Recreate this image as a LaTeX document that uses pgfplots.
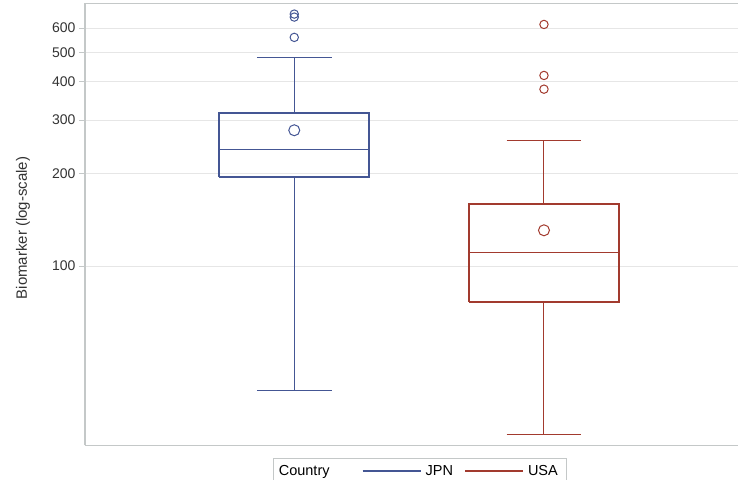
\documentclass[border=0pt]{standalone}
\usepackage{pgfplots}
\pgfplotsset{compat=1.18}
\usepackage{fontspec}
\setmainfont{Liberation Sans}
\definecolor{jpn}{HTML}{445694}
\definecolor{usa}{HTML}{A23A2E}
\definecolor{gridc}{HTML}{E6E6E6}
\definecolor{framec}{HTML}{C4C8C8}
\definecolor{txt}{HTML}{333333}
\begin{document}
\begin{tikzpicture}
\begin{axis}[
  at={(0,0)}, anchor=south west,
  scale only axis, width=653pt, height=442pt,
  ymode=log, ymin=25.9, ymax=722, xmin=0.162, xmax=2.777,
  xtick=\empty,
  ytick={100,200,300,400,500,600},
  yticklabels={100,200,300,400,500,600},
  yminorticks=false,
  ymajorgrids, major grid style={gridc, line width=1pt},
  axis x line*=box, axis y line*=left,
  axis line style={framec, line width=1.5pt},
  tick align=outside, major tick length=6pt,
  tick style={framec, line width=1pt},
  yticklabel style={font=\fontsize{14}{16}\selectfont, color=txt},
  ylabel={Biomarker (log-scale)},
  ylabel style={font=\fontsize{15}{17}\selectfont, color=txt, at={(axis description cs:-0.095,0.492)}, anchor=center},
  unbounded coords=jump,
  legend columns=3,
  legend image code/.code={\draw[#1, line width=2pt] (0pt,0pt) -- (58pt,0pt);},
  legend style={at={(axis description cs:0.512,0)}, yshift=-12.5pt, anchor=north,
    draw=framec, font=\fontsize{14.5}{17}\selectfont, text=black,
    inner xsep=2pt, inner ysep=5pt,
    /tikz/every odd column/.append style={column sep=2pt},
    /tikz/every even column/.append style={column sep=9pt}},
]
\coordinate (sw) at (rel axis cs:0,0);
% JPN: box
\addplot[jpn, line width=2pt, line join=miter, forget plot] coordinates
  {(0.7,195.6)(1.3,195.6)(1.3,315.5)(0.7,315.5)(0.7,195.6)};
% JPN: median, whiskers, caps
\addplot[jpn, line width=1pt, forget plot] coordinates
  {(0.7,240.4)(1.3,240.4) (1,nan)
   (1,315.5)(1,479.6) (1,nan)
   (0.85,479.6)(1.15,479.6) (1,nan)
   (1,195.6)(1,39.2) (1,nan)
   (0.85,39.2)(1.15,39.2)};
% JPN outliers
\addplot[jpn, only marks, mark=o, mark size=4.2pt, line width=1pt, forget plot]
  coordinates {(1,666.7)(1,651.8)(1,559.4)};
% JPN mean
\addplot[jpn, only marks, mark=o, mark size=5.5pt, line width=1pt, forget plot]
  coordinates {(1,278)};
% USA: box
\addplot[usa, line width=2pt, line join=miter, forget plot] coordinates
  {(1.7,76.2)(2.3,76.2)(2.3,160.1)(1.7,160.1)(1.7,76.2)};
\addplot[usa, line width=1pt, forget plot] coordinates
  {(1.7,111.1)(2.3,111.1) (2,nan)
   (2,160.1)(2,256.6) (2,nan)
   (1.85,256.6)(2.15,256.6) (2,nan)
   (2,76.2)(2,28.1) (2,nan)
   (1.85,28.1)(2.15,28.1)};
\addplot[usa, only marks, mark=o, mark size=4.2pt, line width=1pt, forget plot]
  coordinates {(2,616.6)(2,420.0)(2,378.8)};
\addplot[usa, only marks, mark=o, mark size=5.5pt, line width=1pt, forget plot]
  coordinates {(2,130.9)};
\addlegendimage{empty legend}\addlegendentry{Country\kern21pt}
\addlegendimage{jpn}\addlegendentry{JPN}
\addlegendimage{usa}\addlegendentry{USA\kern4pt}
\end{axis}
\pgfresetboundingbox
\path (sw) ++(-85pt,-33.5pt) rectangle ++(738pt,479pt);
\end{tikzpicture}
\end{document}
